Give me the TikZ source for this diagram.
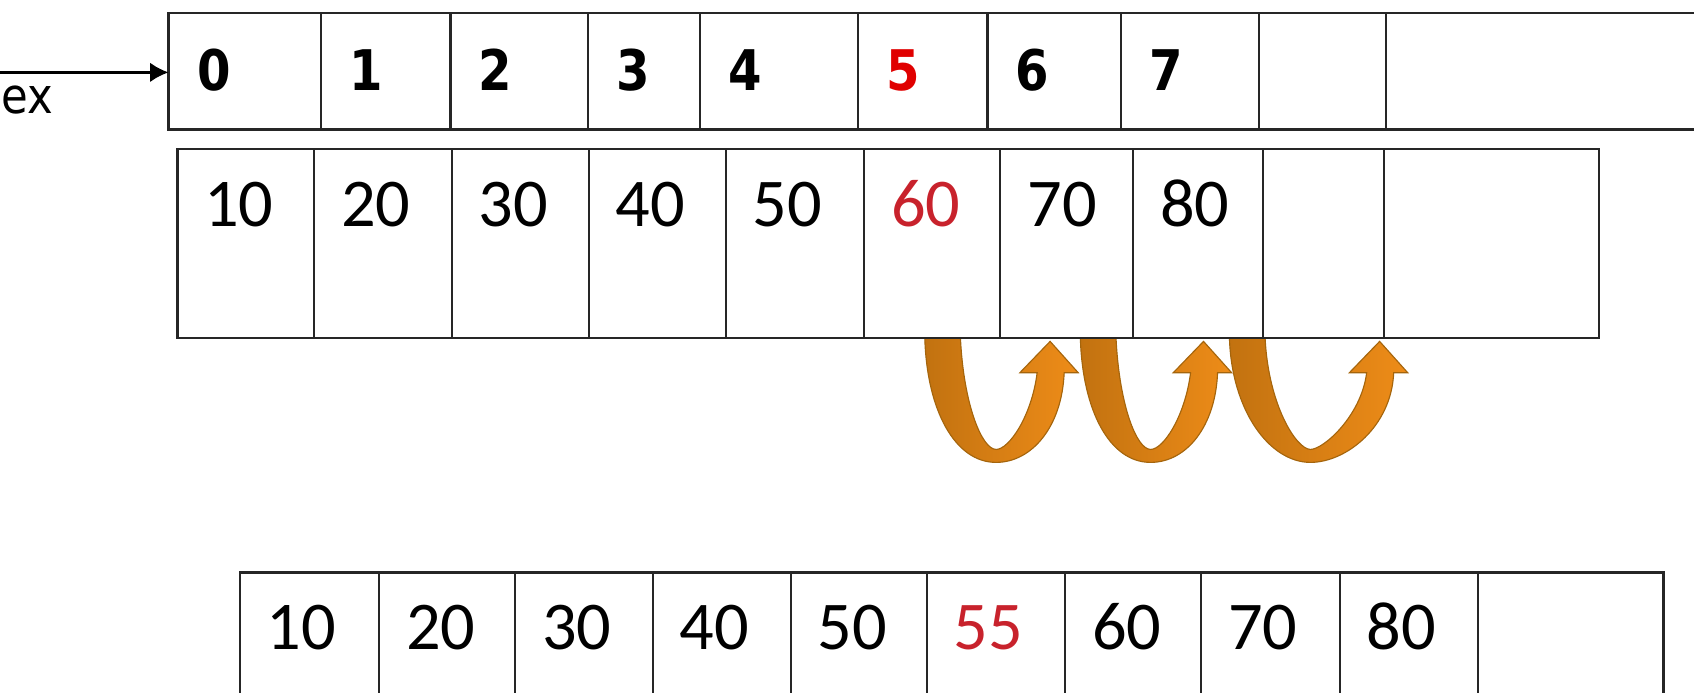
\documentclass[tikz,border=0pt]{standalone}
\usepackage{fontspec}
\setmainfont{Carlito}
\newfontfamily\idxfont[FakeStretch=0.86]{DejaVu Sans}
\newfontfamily\lblfont[FakeStretch=0.88]{DejaVu Sans}
\usetikzlibrary{arrows.meta}
\definecolor{cellline}{HTML}{262626}
\definecolor{hotred}{HTML}{E00000}
\definecolor{valred}{HTML}{C8222C}
\definecolor{orgdark}{HTML}{C27210}
\definecolor{orglight}{HTML}{EE8C18}
\definecolor{orgedge}{HTML}{A5650C}
\tikzset{
  rowline/.style={draw=cellline, line width=1.4pt},
  idxtext/.style={font=\idxfont\bfseries\fontsize{29.5}{32}\selectfont, inner sep=0pt, anchor=base west},
  valtext/.style={font=\fontsize{36}{40}\selectfont, inner sep=0pt, anchor=base},
  lbltext/.style={font=\lblfont\fontsize{26}{30}\selectfont, inner sep=0pt, anchor=base east},
  shiftarrow/.style={left color=orgdark, right color=orglight, draw=orgedge, line width=0.6pt},
  ptr/.style={draw=black, line width=1.2pt, -{Latex[length=0.34cm, width=0.36cm]}}
}
\begin{document}
\begin{tikzpicture}[x=0.02cm, y=-0.02cm]
\useasboundingbox (0,0) rectangle (1568,641);
\clip (0,0) rectangle (1568,641);

% shifting arrows
\foreach \L/\B/\T [count=\i] in {856/922/972, 1000/1065/1114, 1138/1213/1277}{
  \shadedraw[shiftarrow] (\L,313)
    .. controls (\L+2,380) and (\B-38,428) .. (\B,428)
    .. controls (\B+33,428) and (\T+11,395) .. (\T+13,345)
    -- (\T+26,345) -- (\T,316) -- (\T-28,345) -- (\T-12,345)
    .. controls (\T-17,385) and (\B+12,416) .. (\B,416)
    .. controls (\B-13,416) and (\L+36,375) .. (\L+33,313) -- cycle;
}

% top row: index
\draw[rowline] (156,12) rectangle (1640,120);
\foreach \x in {297,417,544,648,794,914,1038,1165,1283}{
  \draw[rowline, line width=1.1pt] (\x,12) -- (\x,120);
}
\foreach \x/\t [count=\i from 0] in {156/0,297/1,417/2,544/3,648/4,794/{\textcolor{hotred}{5}},914/6,1038/7}{
  \node[idxtext] (idx\i) at (\x+26,84) {\t};
}

% index pointer
\coordinate (ptrstart) at (-10,67);
\coordinate (ptrend) at (156,67);
\draw[ptr] (ptrstart) -- (ptrend);
\node[lbltext] (idxlabel) at (50,105) {ex};

% middle row: before insertion
\draw[rowline] (164,138) rectangle (1480,313);
\foreach \x in {291,418,545,672,800,926,1049,1169,1281}{
  \draw[rowline, line width=1.1pt] (\x,138) -- (\x,313);
}
\foreach \x/\t [count=\i] in {164/10,291/20,418/30,545/40,672/50,800/{\textcolor{valred}{60}},926/70,1049/80}{
  \node[valtext] (old\i) at (\x+57,210) {\t};
}

% bottom row: after insertion
\draw[rowline] (222,530) rectangle (1540,680);
\foreach \x in {351,477,604,732,858,986,1112,1240,1368}{
  \draw[rowline, line width=1.1pt] (\x,530) -- (\x,680);
}
\foreach \x/\t [count=\i] in {222/10,351/20,477/30,604/40,732/50,858/{\textcolor{valred}{55}},986/60,1112/70,1240/80}{
  \node[valtext] (new\i) at (\x+57,601) {\t};
}
\end{tikzpicture}
\end{document}
